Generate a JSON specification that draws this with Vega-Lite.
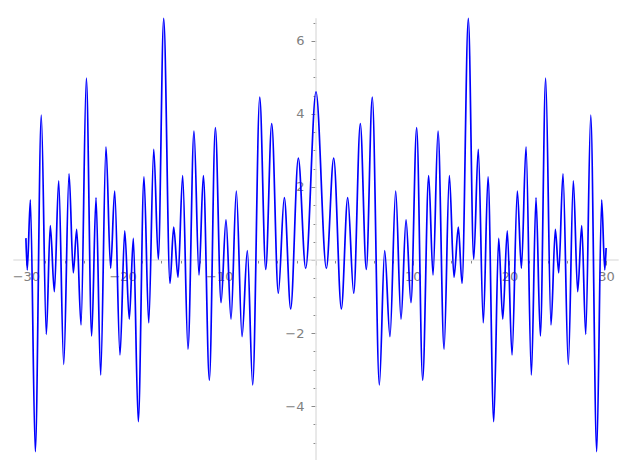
{
  "$schema": "https://vega.github.io/schema/vega-lite/v6.json",
  "width": 627,
  "height": 470,
  "autosize": "none",
  "padding": 0,
  "background": "white",
  "config": {"view": {"stroke": null}},
  "datasets": {
    "curve": [
      {"x": -30.0, "y": 0.6},
      {"x": -29.86, "y": -0.27},
      {"x": -29.54, "y": 1.65},
      {"x": -29.03, "y": -5.25},
      {"x": -28.41, "y": 3.97},
      {"x": -27.89, "y": -2.04},
      {"x": -27.48, "y": 0.94},
      {"x": -27.06, "y": -0.87},
      {"x": -26.61, "y": 2.17},
      {"x": -26.09, "y": -2.86},
      {"x": -25.54, "y": 2.36},
      {"x": -25.10, "y": -0.35},
      {"x": -24.75, "y": 0.84},
      {"x": -24.30, "y": -1.78},
      {"x": -23.75, "y": 4.98},
      {"x": -23.20, "y": -2.08},
      {"x": -22.75, "y": 1.71},
      {"x": -22.27, "y": -3.15},
      {"x": -21.72, "y": 3.10},
      {"x": -21.24, "y": -0.23},
      {"x": -20.82, "y": 1.89},
      {"x": -20.27, "y": -2.60},
      {"x": -19.78, "y": 0.80},
      {"x": -19.31, "y": -1.62},
      {"x": -18.89, "y": 0.59},
      {"x": -18.38, "y": -4.43},
      {"x": -17.79, "y": 2.28},
      {"x": -17.30, "y": -1.72},
      {"x": -16.78, "y": 3.03},
      {"x": -16.31, "y": 0.02},
      {"x": -15.75, "y": 6.62},
      {"x": -15.10, "y": -0.64},
      {"x": -14.72, "y": 0.90},
      {"x": -14.27, "y": -0.47},
      {"x": -13.79, "y": 2.31},
      {"x": -13.24, "y": -2.44},
      {"x": -12.62, "y": 3.53},
      {"x": -12.10, "y": -0.41},
      {"x": -11.65, "y": 2.31},
      {"x": -11.03, "y": -3.29},
      {"x": -10.41, "y": 3.63},
      {"x": -9.82, "y": -1.17},
      {"x": -9.31, "y": 1.10},
      {"x": -8.79, "y": -1.62},
      {"x": -8.24, "y": 1.89},
      {"x": -7.65, "y": -2.10},
      {"x": -7.10, "y": 0.26},
      {"x": -6.55, "y": -3.42},
      {"x": -5.82, "y": 4.46},
      {"x": -5.20, "y": -0.26},
      {"x": -4.58, "y": 3.74},
      {"x": -3.90, "y": -0.91},
      {"x": -3.28, "y": 1.71},
      {"x": -2.62, "y": -1.34},
      {"x": -1.83, "y": 2.79},
      {"x": -1.07, "y": -0.23},
      {"x": 0.0, "y": 4.61},
      {"x": 1.07, "y": -0.23},
      {"x": 1.83, "y": 2.79},
      {"x": 2.62, "y": -1.34},
      {"x": 3.28, "y": 1.71},
      {"x": 3.90, "y": -0.91},
      {"x": 4.58, "y": 3.74},
      {"x": 5.20, "y": -0.26},
      {"x": 5.82, "y": 4.46},
      {"x": 6.55, "y": -3.42},
      {"x": 7.10, "y": 0.26},
      {"x": 7.65, "y": -2.10},
      {"x": 8.24, "y": 1.89},
      {"x": 8.79, "y": -1.62},
      {"x": 9.31, "y": 1.10},
      {"x": 9.82, "y": -1.17},
      {"x": 10.41, "y": 3.63},
      {"x": 11.03, "y": -3.29},
      {"x": 11.65, "y": 2.31},
      {"x": 12.10, "y": -0.41},
      {"x": 12.62, "y": 3.53},
      {"x": 13.24, "y": -2.44},
      {"x": 13.79, "y": 2.31},
      {"x": 14.27, "y": -0.47},
      {"x": 14.72, "y": 0.90},
      {"x": 15.10, "y": -0.64},
      {"x": 15.75, "y": 6.62},
      {"x": 16.31, "y": 0.02},
      {"x": 16.78, "y": 3.03},
      {"x": 17.30, "y": -1.72},
      {"x": 17.79, "y": 2.28},
      {"x": 18.38, "y": -4.43},
      {"x": 18.89, "y": 0.59},
      {"x": 19.31, "y": -1.62},
      {"x": 19.78, "y": 0.80},
      {"x": 20.27, "y": -2.60},
      {"x": 20.82, "y": 1.89},
      {"x": 21.24, "y": -0.23},
      {"x": 21.72, "y": 3.10},
      {"x": 22.27, "y": -3.15},
      {"x": 22.75, "y": 1.71},
      {"x": 23.20, "y": -2.08},
      {"x": 23.75, "y": 4.98},
      {"x": 24.30, "y": -1.78},
      {"x": 24.75, "y": 0.84},
      {"x": 25.10, "y": -0.35},
      {"x": 25.54, "y": 2.36},
      {"x": 26.09, "y": -2.86},
      {"x": 26.61, "y": 2.17},
      {"x": 27.06, "y": -0.87},
      {"x": 27.48, "y": 0.94},
      {"x": 27.89, "y": -2.04},
      {"x": 28.41, "y": 3.97},
      {"x": 29.03, "y": -5.25},
      {"x": 29.54, "y": 1.65},
      {"x": 29.86, "y": -0.27},
      {"x": 30.0, "y": 0.33}
    ],
    "spines": [
      {"x": -31.3, "x2": 31.3, "y": 0, "y2": 0},
      {"x": 0, "x2": 0, "y": -5.48, "y2": 6.62}
    ]
  },
  "encoding": {
    "x": {
      "field": "x", "type": "quantitative",
      "scale": {"domain": [-32.68, 32.16], "nice": false, "zero": false},
      "axis": {
        "title": null, "domain": false, "grid": false, "offset": -210,
        "values": [-30, -28, -26, -24, -22, -20, -18, -16, -14, -12, -10, -8, -6, -4, -2, 0, 2, 4, 6, 8, 10, 12, 14, 16, 18, 20, 22, 24, 26, 28, 30],
        "tickSize": {"condition": {"test": "datum.value % 10 === 0", "value": 5}, "value": 3},
        "tickColor": "#8a8a8a", "tickWidth": 1,
        "labelExpr": "datum.value % 10 === 0 && datum.value !== 0 ? replace(format(datum.value, 'd'), '-', '\u2212') : ''",
        "labelFont": "DejaVu Sans", "labelFontSize": 13, "labelColor": "#808080",
        "labelPadding": 5, "labelFlush": false, "labelOverlap": false
      }
    },
    "y": {
      "field": "y", "type": "quantitative",
      "scale": {"domain": [-5.753, 7.123], "nice": false, "zero": false},
      "axis": {
        "title": null, "domain": false, "grid": false, "offset": -316,
        "values": [-5, -4.5, -4, -3.5, -3, -2.5, -2, -1.5, -1, -0.5, 0, 0.5, 1, 1.5, 2, 2.5, 3, 3.5, 4, 4.5, 5, 5.5, 6, 6.5],
        "tickSize": {"condition": {"test": "datum.value % 2 === 0", "value": 5}, "value": 3},
        "tickColor": "#8a8a8a", "tickWidth": 1,
        "labelExpr": "datum.value % 2 === 0 && datum.value !== 0 ? replace(format(datum.value, 'd'), '-', '\u2212') : ''",
        "labelFont": "DejaVu Sans", "labelFontSize": 13, "labelColor": "#808080",
        "labelPadding": 7, "labelFlush": false, "labelOverlap": false
      }
    }
  },
  "layer": [
    {
      "data": {"name": "spines"},
      "mark": {"type": "rule", "color": "#e3e3e3", "strokeWidth": 1.6},
      "encoding": {
        "x2": {"field": "x2"},
        "y2": {"field": "y2"}
      }
    },
    {
      "data": {"name": "curve"},
      "mark": {"type": "line", "color": "#0000ff", "strokeWidth": 1.7, "interpolate": "monotone"}
    }
  ]
}
